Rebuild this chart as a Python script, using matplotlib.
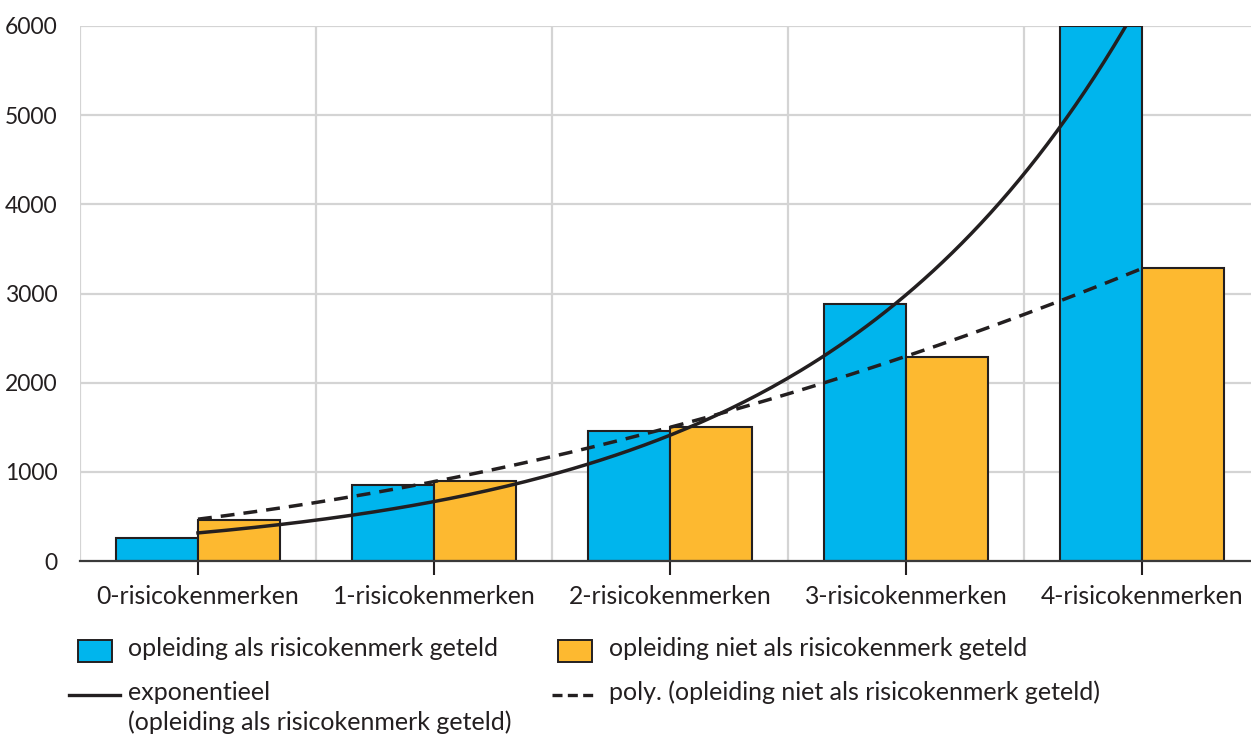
import numpy as np
import matplotlib.pyplot as plt
from matplotlib.patches import Rectangle
from matplotlib.lines import Line2D

plt.rcParams['font.family'] = ['Lato', 'DejaVu Sans']

categories = ['0-risicokenmerken', '1-risicokenmerken', '2-risicokenmerken',
              '3-risicokenmerken', '4-risicokenmerken']
blue_vals = [260, 852, 1458, 2880, 6000]     # opleiding als risicokenmerk geteld
orange_vals = [465, 897, 1503, 2284, 3286]   # opleiding niet als risicokenmerk geteld
yticks = [0, 1000, 2000, 3000, 4000, 5000, 6000]

blue = '#00b5ed'
orange = '#fdb930'
ink = '#231f20'
grid = '#d4d4d4'

W, H = 1251, 737
fig = plt.figure(figsize=(W / 100, H / 100), dpi=100)
ax = fig.add_axes([80 / W, 1 - 561 / H, 1180 / W, 535 / H])

x = np.arange(len(categories))
bw = 0.347
ax.bar(x - bw / 2, blue_vals, bw, color=blue, edgecolor=ink, linewidth=1.5, zorder=3)
ax.bar(x + bw / 2, orange_vals, bw, color=orange, edgecolor=ink, linewidth=1.5, zorder=3)

# trendlines (fitted like the spreadsheet does)
xs = np.linspace(0, 4, 200)
b, a = np.polyfit(x, np.log(blue_vals), 1)
ax.plot(xs, np.exp(a + b * xs), color=ink, lw=2.5, zorder=4)
p = np.polyfit(x, orange_vals, 2)
ax.plot(xs, np.polyval(p, xs), color=ink, lw=2.5, ls=(0, (4, 2.6)), zorder=4)

ax.set_xlim(-0.5, 4.5)
ax.set_ylim(0, 6000)
ax.set_yticks(yticks)
ax.set_yticklabels([str(v) for v in yticks], fontsize=16.5, color=ink)
ax.tick_params(axis='y', length=0, pad=16)
ax.set_xticks(x)
ax.set_xticklabels(categories, fontsize=17.8, color=ink)
ax.tick_params(axis='x', length=10, width=1.5, color=ink, direction='out', pad=7)

for v in yticks[1:]:
    ax.axhline(v, color=grid, lw=1.6, zorder=1)
for v in np.arange(-0.5, 4.6, 1.0):
    ax.axvline(v, color=grid, lw=1.6, zorder=1)

for s in ['top', 'right', 'left']:
    ax.spines[s].set_visible(False)
ax.spines['bottom'].set_color('#3a3a3a')
ax.spines['bottom'].set_linewidth(1.6)
ax.spines['bottom'].set_zorder(5)

# legend
def fx(px):
    return px / W

def fy(py):
    return 1 - py / H

fs = 18
fig.add_artist(Rectangle((fx(78), fy(662)), 34 / W, 22 / H, facecolor=blue,
                         edgecolor=ink, lw=1.4, transform=fig.transFigure))
fig.text(fx(128), fy(649), 'opleiding als risicokenmerk geteld', fontsize=fs,
         color=ink, va='center')
fig.add_artist(Rectangle((fx(558), fy(662)), 34 / W, 22 / H, facecolor=orange,
                         edgecolor=ink, lw=1.4, transform=fig.transFigure))
fig.text(fx(609), fy(649), 'opleiding niet als risicokenmerk geteld', fontsize=fs,
         color=ink, va='center')

fig.add_artist(Line2D([fx(69), fx(120)], [fy(695), fy(695)], color=ink, lw=2.4,
                      transform=fig.transFigure))
fig.text(fx(128), fy(692), 'exponentieel', fontsize=fs, color=ink, va='center')
fig.text(fx(128), fy(722), '(opleiding als risicokenmerk geteld)', fontsize=fs,
         color=ink, va='center')
fig.add_artist(Line2D([fx(552), fx(593)], [fy(695), fy(695)], color=ink, lw=2.4,
                      ls=(0, (3.0, 1.6)), transform=fig.transFigure))
fig.text(fx(609), fy(692), 'poly. (opleiding niet als risicokenmerk geteld)',
         fontsize=fs, color=ink, va='center')

fig.savefig('out.png', dpi=100)
